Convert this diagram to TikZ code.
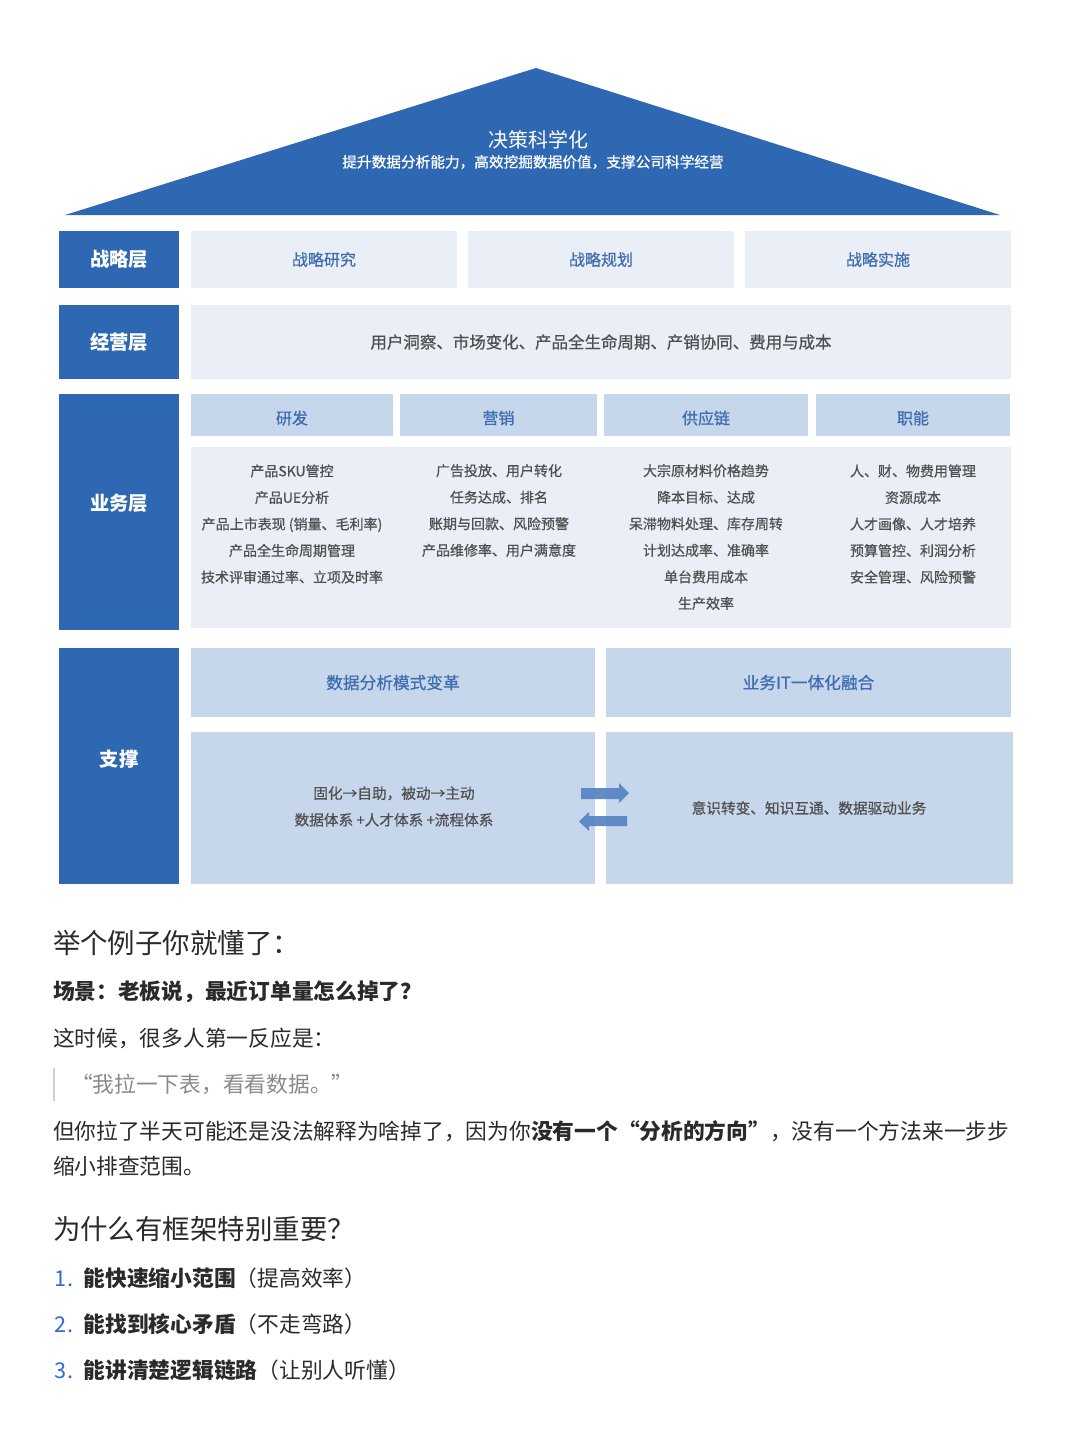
\documentclass[tikz,border=0pt]{standalone}
\usepackage{fontspec}
\setmainfont{Noto Sans CJK SC}
\newfontfamily\medf{Noto Sans CJK SC}[RawFeature={embolden=0.7}]
\definecolor{dk}{HTML}{2F68B2}
\definecolor{lt}{HTML}{EAEFF7}
\definecolor{hd}{HTML}{C6D6EB}
\definecolor{bt}{HTML}{3F6DB0}
\definecolor{gt}{HTML}{505050}
\definecolor{ar}{HTML}{5281C1}
\definecolor{numc}{HTML}{2E6AD0}
\definecolor{qbar}{HTML}{CFCFCF}
\definecolor{qtxt}{HTML}{8A8A8A}
\definecolor{body}{HTML}{2A2A2A}
\newcommand\bx[7]{%
  \pgfmathsetmacro\bxcx{(#2+#4)/2}\pgfmathsetmacro\bxcy{(#3+#5)/2}%
  \pgfmathsetmacro\bxw{(#4-#2)*0.75}\pgfmathsetmacro\bxh{(#5-#3)*0.75}%
  \node[#6, minimum width=\bxw pt, minimum height=\bxh pt] (#1) at (\bxcx,\bxcy) {#7};}
\begin{document}
\begin{tikzpicture}[x=0.75pt,y=-0.75pt,
  every node/.style={inner sep=0pt, outer sep=0pt},
  lbl/.style={rectangle, fill=dk, text=white, font=\fontsize{14.5}{17}\selectfont\bfseries},
  ltb/.style={rectangle, fill=lt, text=bt, font=\medf\fontsize{12}{14}\selectfont},
  hdb/.style={rectangle, fill=hd, text=bt, font=\medf\fontsize{12}{14}\selectfont},
  htxt/.style={text=bt, font=\medf\fontsize{12}{14}\selectfont},
  cnt/.style={text=gt, align=center, font=\medf\fontsize{10.5}{19.9}\selectfont},
  para/.style={anchor=west, text=body, font=\fontsize{16.3}{19}\selectfont},
  big/.style={anchor=west, text=body, font=\fontsize{20.6}{24}\selectfont},
  arr/.style={fill=ar, fill opacity=0.9}]
\useasboundingbox (0,0) rectangle (1080,1440);
\fill[white] (0,0) rectangle (1080,1440);
% roof
\fill[dk] (536,68) -- (1000,215) -- (65,215) -- cycle;
\node[text=white, font=\fontsize{15}{17}\selectfont] (roof) at (538,140) {决策科学化};
\node[text=white, font=\medf\fontsize{11}{13}\selectfont] (roofsub) at (533,162) {提升数据分析能力，高效挖掘数据价值，支撑公司科学经营};
% strategy layer
\bx{l1}{59}{231}{179}{288}{lbl}{战略层}
\bx{s1}{191}{231}{457}{288}{ltb}{战略研究}
\bx{s2}{468}{231}{734}{288}{ltb}{战略规划}
\bx{s3}{745}{231}{1011}{288}{ltb}{战略实施}
% operation layer
\bx{l2}{59}{305}{179}{379}{lbl}{经营层}
\bx{o1}{191}{305}{1011}{379}{ltb, text=gt, font=\medf\fontsize{12.35}{14}\selectfont}{用户洞察、市场变化、产品全生命周期、产销协同、费用与成本}
% business layer
\bx{l3}{59}{394}{179}{630}{lbl, text depth=14pt}{业务层}
\bx{h1}{191}{394}{393}{436}{hdb}{}
\bx{h2}{400}{394}{597}{436}{hdb}{}
\bx{h3}{604}{394}{808}{436}{hdb}{}
\bx{h4}{816}{394}{1010}{436}{hdb}{}
\node[htxt] (h1t) at ([yshift=-2.3pt]h1.center) {研发};
\node[htxt] (h2t) at ([yshift=-2.3pt]h2.center) {营销};
\node[htxt] (h3t) at ([yshift=-2.3pt]h3.center) {供应链};
\node[htxt] (h4t) at ([yshift=-2.3pt]h4.center) {职能};
\bx{bz}{191}{447}{1011}{628}{ltb}{}
\node[cnt] (c1) at (292,524) {产品SKU管控\\产品UE分析\\产品上市表现 (销量、毛利率)\\产品全生命周期管理\\技术评审通过率、立项及时率};
\node[cnt] (c2) at (499,510.5) {广告投放、用户转化\\任务达成、排名\\账期与回款、风险预警\\产品维修率、用户满意度};
\node[cnt] (c3) at (706,537) {大宗原材料价格趋势\\降本目标、达成\\呆滞物料处理、库存周转\\计划达成率、准确率\\单台费用成本\\生产效率};
\node[cnt] (c4) at (913,524) {人、财、物费用管理\\资源成本\\人才画像、人才培养\\预算管控、利润分析\\安全管理、风险预警};
% support layer
\bx{l4}{59}{648}{179}{884}{lbl, text depth=11pt}{支撑}
\bx{t1}{191}{648}{595}{717}{hdb, font=\medf\fontsize{12.5}{15}\selectfont}{数据分析模式变革}
\bx{t2}{606}{648}{1011}{717}{hdb, font=\medf\fontsize{12.5}{15}\selectfont}{业务IT一体化融合}
\bx{b1}{191}{732}{595}{884}{hdb}{}
\bx{b2}{606}{732}{1013}{884}{hdb}{}
\node[cnt, font=\medf\fontsize{11}{20}\selectfont] (b1t) at (394,806.5) {固化→自助，被动→主动\\数据体系 +人才体系 +流程体系};
\node[cnt, font=\medf\fontsize{11}{13}\selectfont] (b2t) at (809,808) {意识转变、知识互通、数据驱动业务};
\fill[arr] (581,788) -- (619,788) -- (619,783) -- (629,793) -- (619,803) -- (619,799) -- (581,799) -- cycle;
\fill[arr] (627,816) -- (589,816) -- (589,812) -- (579,821.5) -- (589,831) -- (589,826) -- (627,826) -- cycle;
% text below
\node[big] (t1) at (53,943) {举个例子你就懂了：};
\node[para, font=\fontsize{16.3}{19}\selectfont\bfseries] (t2) at (53,992) {场景：老板说，最近订单量怎么掉了？};
\node[para] (t3) at (53,1038) {这时候，很多人第一反应是：};
\draw[qbar, line width=1.5pt] (54,1068) -- (54,1101);
\node[para, text=qtxt] (t4) at (71,1084) {“我拉一下表，看看数据。”};
\node[para] (t5) at (53,1131) {但你拉了半天可能还是没法解释为啥掉了，因为你\textbf{没有一个“分析的方向”}，没有一个方法来一步步};
\node[para] (t6) at (53,1166) {缩小排查范围。};
\node[big] (t7) at (53,1229) {为什么有框架特别重要？};
\node[para] (i1) at (55,1278) {\textcolor{numc}{1.}\hspace{8pt}\textbf{能快速缩小范围}（提高效率）};
\node[para] (i2) at (55,1324) {\textcolor{numc}{2.}\hspace{8pt}\textbf{能找到核心矛盾}（不走弯路）};
\node[para] (i3) at (55,1370) {\textcolor{numc}{3.}\hspace{8pt}\textbf{能讲清楚逻辑链路}（让别人听懂）};
\end{tikzpicture}
\end{document}
